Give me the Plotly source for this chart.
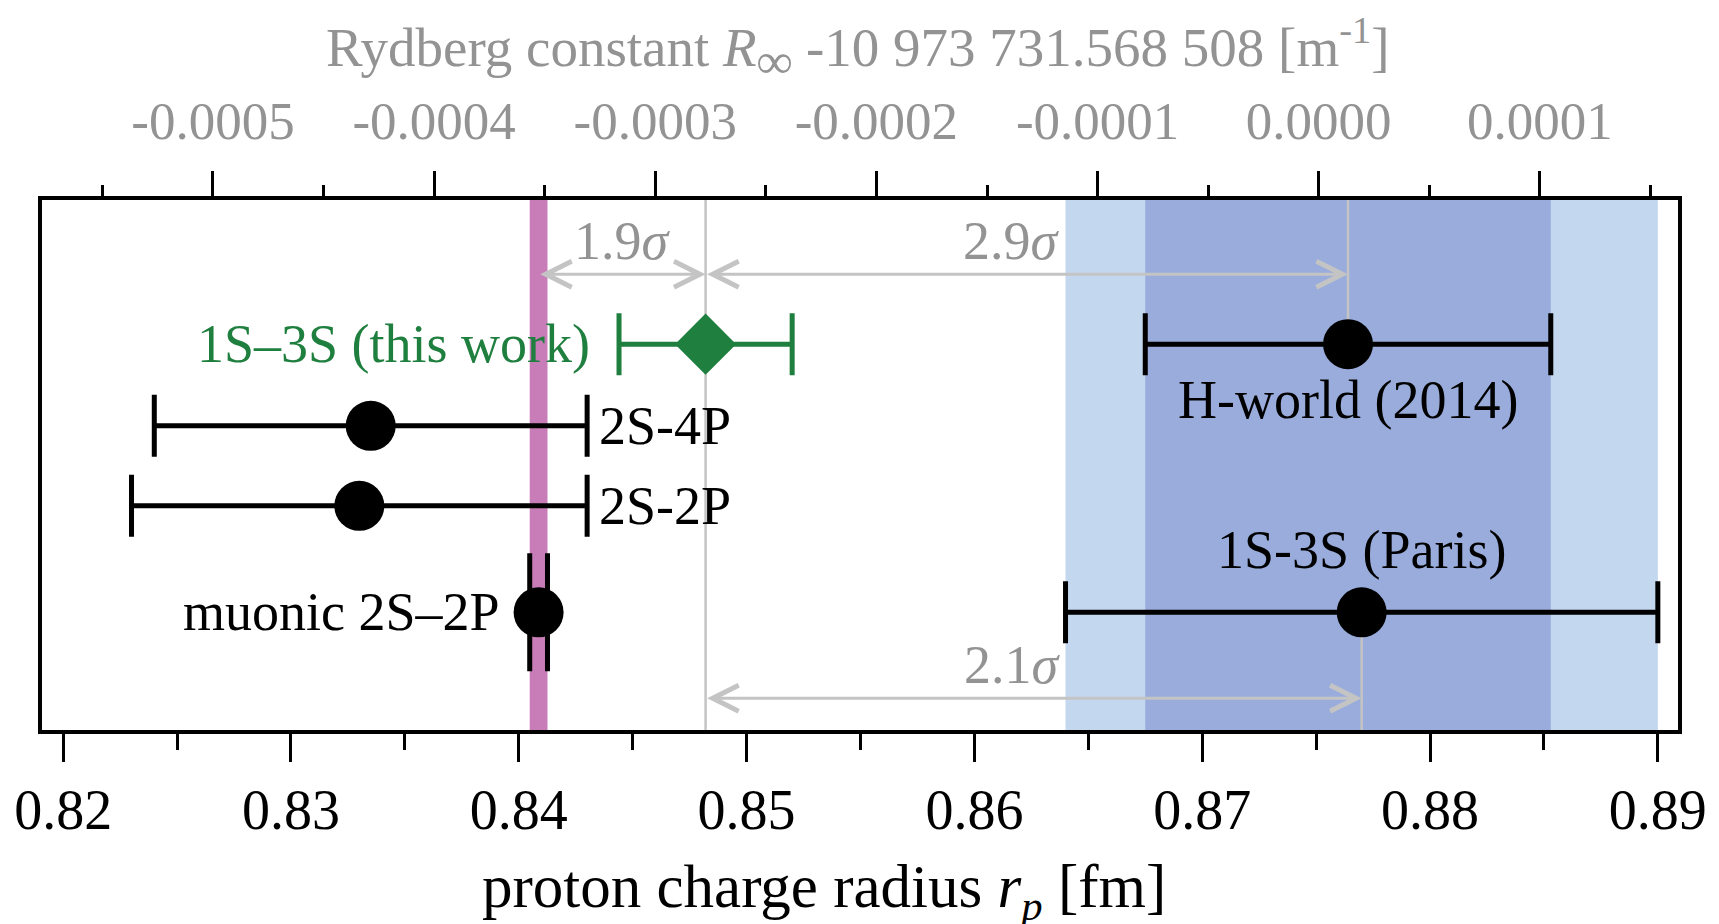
import plotly.graph_objects as go

# ---------------- data ----------------
names = ["1S–3S (this work)", "2S-4P", "2S-2P", "muonic 2S–2P", "H-world (2014)", "1S-3S (Paris)"]
rp = [0.8482, 0.8335, 0.8330, 0.84087, 0.8764, 0.8770]          # fm
rp_err = [0.0038, 0.0095, 0.0100, 0.00039, 0.0089, 0.0130]      # fm
row = [7.28, 5.74, 4.23, 2.22, 7.28, 2.22]                       # vertical row position

x_ticks = [0.82, 0.83, 0.84, 0.85, 0.86, 0.87, 0.88, 0.89]
x_ticklabels = ["0.82", "0.83", "0.84", "0.85", "0.86", "0.87", "0.88", "0.89"]
x_minor = [0.825, 0.835, 0.845, 0.855, 0.865, 0.875, 0.885]

ryd_ticks = [-0.0005, -0.0004, -0.0003, -0.0002, -0.0001, 0.0, 0.0001]
ryd_ticklabels = ["-0.0005", "-0.0004", "-0.0003", "-0.0002", "-0.0001", "0.0000", "0.0001"]
ryd_minor = [-0.00055, -0.00045, -0.00035, -0.00025, -0.00015, -0.00005, 0.00005, 0.00015]

# significance arrows: (from index, to index, label, row)
sig_from = [3, 0, 0]
sig_to = [0, 4, 5]
sig_labels = ["1.9<i>σ</i>", "2.9<i>σ</i>", "2.1<i>σ</i>"]
sig_row = [8.60, 8.60, 0.60]
sig_label_shift = [0, -15, -21]

# ---------------- styling ----------------
FONT = "Liberation Serif"
FS = 54
GREEN = "#1f7f3f"
GRAY_TXT = "#939393"
GRAY_LN = "#c4c4c4"
PINK = "#c87db8"
LIGHT_BLUE = "#c3d7ef"
DARK_BLUE = "#99acdb"

fig = go.Figure()

# black points (2S-4P, 2S-2P, H-world, Paris)
blk = [1, 2, 4, 5]
fig.add_trace(go.Scatter(
    x=[rp[i] for i in blk], y=[row[i] for i in blk],
    mode="markers",
    marker=dict(symbol="circle", size=50, color="black"),
    error_x=dict(type="data", array=[rp_err[i] for i in blk], color="black",
                 thickness=5, width=31),
    hoverinfo="skip", showlegend=False))

# muonic
fig.add_trace(go.Scatter(
    x=[rp[3]], y=[row[3]], mode="markers",
    marker=dict(symbol="circle", size=50, color="black"),
    error_x=dict(type="data", array=[rp_err[3]], color="black", thickness=5, width=59),
    hoverinfo="skip", showlegend=False))

# this work
fig.add_trace(go.Scatter(
    x=[rp[0]], y=[row[0]], mode="markers",
    marker=dict(symbol="diamond", size=47, color=GREEN),
    error_x=dict(type="data", array=[rp_err[0]], color=GREEN, thickness=5, width=31),
    hoverinfo="skip", showlegend=False))

# invisible trace to carry the Rydberg axis
fig.add_trace(go.Scatter(x=ryd_ticks, y=[None] * len(ryd_ticks), xaxis="x2", yaxis="y",
                         mode="lines", hoverinfo="skip", showlegend=False))

# ---------------- shapes ----------------
shapes = [
    dict(type="rect", xref="x", yref="paper", x0=rp[5] - rp_err[5], x1=rp[5] + rp_err[5],
         y0=0, y1=1, fillcolor=LIGHT_BLUE, line=dict(width=0), layer="below"),
    dict(type="rect", xref="x", yref="paper", x0=rp[4] - rp_err[4], x1=rp[4] + rp_err[4],
         y0=0, y1=1, fillcolor=DARK_BLUE, line=dict(width=0), layer="below"),
    dict(type="rect", xref="x", yref="paper", x0=rp[3] - rp_err[3], x1=rp[3] + rp_err[3],
         y0=0, y1=1, fillcolor=PINK, line=dict(width=0), layer="below"),
    dict(type="line", xref="x", yref="paper", x0=rp[0], x1=rp[0], y0=0, y1=1,
         line=dict(color=GRAY_LN, width=2.5), layer="below"),
    dict(type="line", xref="x", yref="y", x0=rp[4], x1=rp[4], y0=row[4], y1=10,
         line=dict(color=GRAY_LN, width=2.5), layer="below"),
    dict(type="line", xref="x", yref="y", x0=rp[5], x1=rp[5], y0=0, y1=row[5],
         line=dict(color=GRAY_LN, width=2.5), layer="below"),
]

# ---------------- annotations ----------------
ann = []
for f, t, lab, r, sh in zip(sig_from, sig_to, sig_labels, sig_row, sig_label_shift):
    ann.append(dict(x=rp[t], y=r, ax=rp[f], ay=r, xref="x", yref="y", axref="x", ayref="y",
                    text="", showarrow=True, arrowside="end+start",
                    arrowhead=5, startarrowhead=5, arrowsize=1.7, startarrowsize=1.7,
                    arrowwidth=3, arrowcolor=GRAY_LN, standoff=0, startstandoff=0))
    ann.append(dict(x=(rp[f] + rp[t]) / 2, y=r, xref="x", yref="y", text=lab, showarrow=False,
                    xanchor="center", yanchor="middle", yshift=33, xshift=sh,
                    font=dict(family=FONT, size=FS, color=GRAY_TXT)))

# point labels
ann.append(dict(x=rp[0] - rp_err[0], y=row[0], xref="x", yref="y", text=names[0],
                showarrow=False, xanchor="right", yanchor="middle", xshift=-27,
                font=dict(family=FONT, size=FS, color=GREEN)))
for i in (1, 2):
    ann.append(dict(x=rp[i] + rp_err[i], y=row[i], xref="x", yref="y", text=names[i],
                    showarrow=False, xanchor="left", yanchor="middle", xshift=10,
                    font=dict(family=FONT, size=FS, color="black")))
ann.append(dict(x=rp[3], y=row[3], xref="x", yref="y", text=names[3],
                showarrow=False, xanchor="right", yanchor="middle", xshift=-37,
                font=dict(family=FONT, size=FS, color="black")))
ann.append(dict(x=rp[4], y=row[4], xref="x", yref="y", text=names[4],
                showarrow=False, xanchor="center", yanchor="middle", yshift=-56,
                font=dict(family=FONT, size=FS, color="black")))
ann.append(dict(x=rp[5], y=row[5], xref="x", yref="y", text=names[5],
                showarrow=False, xanchor="center", yanchor="middle", yshift=62,
                font=dict(family=FONT, size=FS, color="black")))

# axis titles
ann.append(dict(x=0.478, y=-0.304, xref="paper", yref="paper",
                text="proton charge radius <i>r</i><sub><i>p</i></sub> [fm]",
                showarrow=False, xanchor="center", yanchor="middle",
                font=dict(family=FONT, size=61, color="black")))
ann.append(dict(x=0.4986, y=1.285, xref="paper", yref="paper",
                text=("Rydberg constant <i>R</i><sub><span style=\"font-size:50px\"><b>∞</b></span></sub>"
                      " -10 973 731.568 508 [m<sup>-1</sup>]"),
                showarrow=False, xanchor="center", yanchor="middle",
                font=dict(family=FONT, size=55, color=GRAY_TXT)))

fig.update_layout(
    width=1719, height=924,
    margin=dict(l=42.25, r=33.25, t=200.25, b=193.75),
    plot_bgcolor="white", paper_bgcolor="white",
    showlegend=False,
    font=dict(family=FONT, size=FS, color="black"),
    shapes=shapes,
    annotations=ann,
    xaxis=dict(range=[0.819071, 0.890885], tickmode="array", tickvals=x_ticks, ticktext=x_ticklabels,
               ticks="outside", ticklen=28, tickwidth=3, tickcolor="black",
               showline=True, linewidth=3.5, linecolor="black", mirror=True,
               showgrid=False, zeroline=False, ticklabeloverflow="allow",
               tickfont=dict(family=FONT, size=56, color="black"),
               minor=dict(tickmode="array", tickvals=x_minor, ticks="outside", ticklen=16,
                          tickwidth=3, tickcolor="black", showgrid=False)),
    xaxis2=dict(overlaying="x", side="top", anchor="y",
                range=[-0.0005773, 0.00016245], tickmode="array",
                tickvals=ryd_ticks, ticktext=ryd_ticklabels,
                ticks="outside", ticklen=28, tickwidth=3, tickcolor="black",
                showline=False, showgrid=False, zeroline=False,
                ticklabelstandoff=11, ticklabeloverflow="allow",
                tickfont=dict(family=FONT, size=53, color=GRAY_TXT),
                minor=dict(tickmode="array", tickvals=ryd_minor, ticks="outside", ticklen=14,
                           tickwidth=3, tickcolor="black", showgrid=False)),
    yaxis=dict(range=[0, 10], showticklabels=False, ticks="", showgrid=False, zeroline=False,
               showline=True, linewidth=3.5, linecolor="black", mirror=True, fixedrange=True),
)

# remove the default 8px page margin so the 1719x924 figure fills the window exactly
fig.write_html("out.html", config={"displayModeBar": False},
               post_script="document.body.style.margin='0';document.body.style.overflow='hidden';")
